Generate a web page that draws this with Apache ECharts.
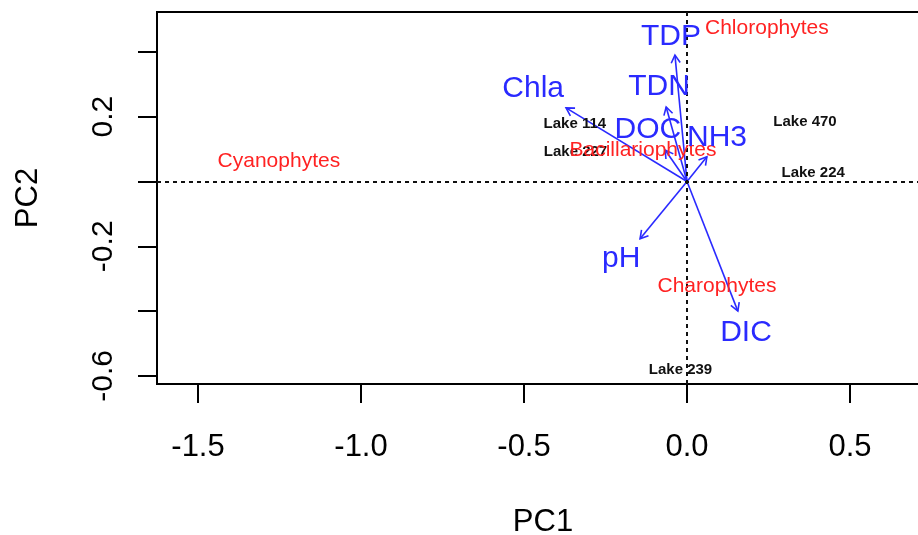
<!DOCTYPE html>
<html><head><meta charset="utf-8">
<script src="https://cdn.jsdelivr.net/npm/echarts@6/dist/echarts.min.js"></script>
<style>html,body{margin:0;padding:0;background:#fff}#c{width:918px;height:535px}</style>
</head><body><div id="c"></div>
<script>
// Environmental vectors (arrow tips) and their label positions
const envNames  = ['TDP', 'TDN', 'Chla', 'DOC', 'NH3', 'pH', 'DIC'];
const envX      = [-0.037, -0.064, -0.371, -0.067, 0.061, -0.144, 0.156];
const envY      = [0.390, 0.230, 0.227, 0.097, 0.076, -0.177, -0.400];
const envLabelX = [-0.049, -0.086, -0.472, -0.120, 0.092, -0.202, 0.181];
const envLabelY = [0.446, 0.292, 0.285, 0.159, 0.134, -0.239, -0.468];
// Species scores
const speciesNames = ['Chlorophytes', 'Bacillariophytes', 'Cyanophytes', 'Charophytes'];
const speciesX = [0.245, -0.135, -1.252, 0.092];
const speciesY = [0.474, 0.097, 0.063, -0.323];
// Site scores
const siteNames = ['Lake 114', 'Lake 227', 'Lake 470', 'Lake 224', 'Lake 239'];
const siteX = [-0.344, -0.342, 0.362, 0.387, -0.020];
const siteY = [0.179, 0.090, 0.185, 0.028, -0.582];
// Axes
const xTicks = [-1.5, -1.0, -0.5, 0.0, 0.5];
const yTicks = [-0.6, -0.4, -0.2, 0.0, 0.2, 0.4];
const yTickLabels = [-0.6, -0.2, 0.2];
const xRange = [-1.6258, 0.7423];
const yRange = [-0.625, 0.523];

const FONT = 'Liberation Sans, Arial, sans-serif';
const BLUE = '#2a2aff', RED = '#ff2222';

const chart = echarts.init(document.getElementById('c'), null, {renderer: 'canvas'});

function arrowItem(params, api) {
  const o = api.coord([0, 0]);
  const t = api.coord([api.value(0), api.value(1)]);
  const ang = Math.atan2(t[1] - o[1], t[0] - o[0]);
  const L = 9, a = Math.PI / 6;
  const h1 = [t[0] - L * Math.cos(ang - a), t[1] - L * Math.sin(ang - a)];
  const h2 = [t[0] - L * Math.cos(ang + a), t[1] - L * Math.sin(ang + a)];
  const st = {stroke: BLUE, lineWidth: 1.6, fill: null};
  return {type: 'group', children: [
    {type: 'line', shape: {x1: o[0], y1: o[1], x2: t[0], y2: t[1]}, style: st},
    {type: 'polyline', shape: {points: [h1, t, h2]}, style: st}
  ]};
}

function textSeries(names, xs, ys, color, size, weight, z) {
  return {
    type: 'scatter', symbolSize: 0, silent: true, z: z,
    itemStyle: {opacity: 1},
    data: names.map((n, i) => ({name: n, value: [xs[i], ys[i]]})),
    label: {show: true, position: 'inside', formatter: p => p.name, opacity: 1,
      color: color, fontSize: size, fontWeight: weight, fontFamily: FONT}
  };
}

chart.setOption({
  animation: false,
  backgroundColor: '#fff',
  grid: {left: 157, top: 12, width: 772, height: 372, show: true,
    outerBoundsMode: 'none', containLabel: false,
    borderColor: '#000', borderWidth: 2, backgroundColor: 'transparent'},
  xAxis: {
    type: 'value', min: xRange[0], max: xRange[1],
    name: 'PC1', nameLocation: 'middle', nameGap: 123,
    nameTextStyle: {fontSize: 31, color: '#000', fontFamily: FONT},
    axisLine: {show: true, onZero: false, lineStyle: {color: '#000', width: 2}},
    axisTick: {show: true, customValues: xTicks, length: 19, inside: false,
      lineStyle: {color: '#000', width: 2}},
    axisLabel: {show: true, customValues: xTicks, margin: 48,
      formatter: v => v.toFixed(1), fontSize: 31, color: '#000', fontFamily: FONT},
    splitLine: {show: false}
  },
  yAxis: {
    type: 'value', min: yRange[0], max: yRange[1],
    name: 'PC2', nameLocation: 'middle', nameGap: 113,
    nameTextStyle: {fontSize: 31, color: '#000', fontFamily: FONT},
    axisLine: {show: true, onZero: false, lineStyle: {color: '#000', width: 2}},
    axisTick: {show: true, customValues: yTicks, length: 19, inside: false,
      lineStyle: {color: '#000', width: 2}},
    axisLabel: {show: true, customValues: yTickLabels, margin: 38, rotate: 90,
      formatter: v => v.toFixed(1), fontSize: 30, color: '#000', fontFamily: FONT},
    splitLine: {show: false}
  },
  series: [
    {
      type: 'custom', renderItem: arrowItem, silent: true, z: 3,
      data: envNames.map((n, i) => [envX[i], envY[i]]),
      markLine: {
        silent: true, symbol: ['none', 'none'], animation: false,
        label: {show: false},
        lineStyle: {color: '#111', width: 2, type: [4, 4]},
        data: [{xAxis: 0}, {yAxis: 0}]
      }
    },
    textSeries(siteNames, siteX, siteY, '#111', 15, 'bold', 4),
    textSeries(speciesNames, speciesX, speciesY, RED, 21, 'normal', 5),
    textSeries(envNames, envLabelX, envLabelY, BLUE, 30, 'normal', 6)
  ]
});
</script>
</body></html>
